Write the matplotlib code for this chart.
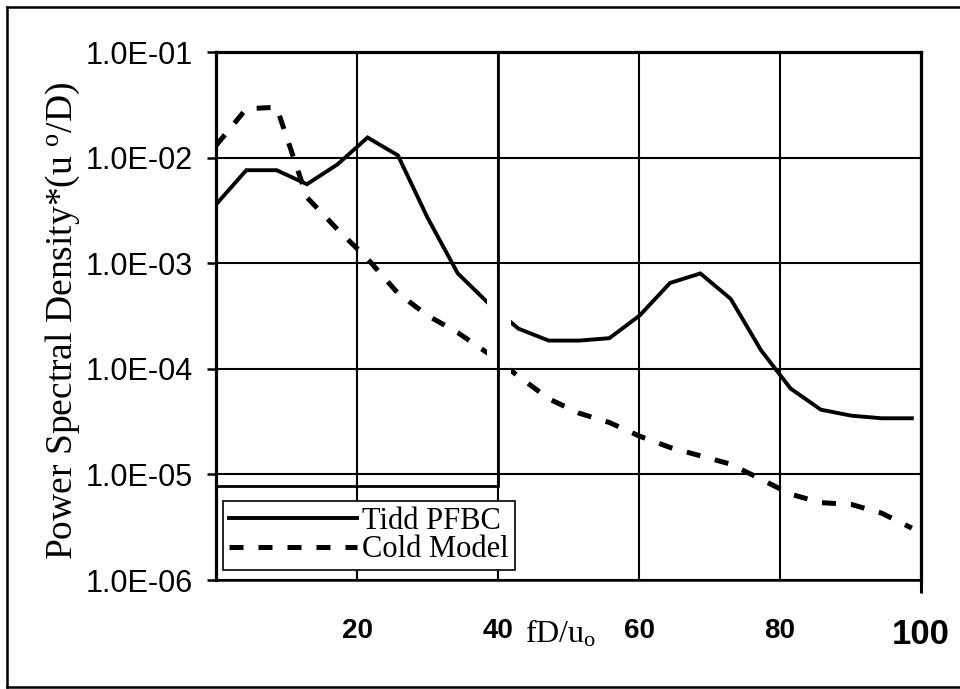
import matplotlib
matplotlib.use("Agg")
import matplotlib.pyplot as plt
from matplotlib.lines import Line2D
from matplotlib.patches import Rectangle
from matplotlib.ticker import FixedLocator, NullLocator

# ---- data ----
fd_uo = [0, 4.3, 8.6, 12.9, 17.2, 21.5, 25.8, 30.0, 34.3, 38.6, 42.9, 47.2,
         51.5, 55.8, 60.1, 64.4, 68.7, 73.0, 77.3, 81.5, 85.8, 90.1, 94.4, 98.7]
tidd_pfbc = [3.6e-3, 7.6e-3, 7.6e-3, 5.6e-3, 8.6e-3, 1.55e-2, 1.05e-2, 2.7e-3,
             8.0e-4, 4.2e-4, 2.4e-4, 1.85e-4, 1.85e-4, 1.95e-4, 3.2e-4, 6.5e-4,
             8.0e-4, 4.6e-4, 1.5e-4, 6.5e-5, 4.1e-5, 3.6e-5, 3.4e-5, 3.4e-5]
cold_model = [1.3e-2, 2.9e-2, 3.0e-2, 4.2e-3, 2.1e-3, 1.1e-3, 5.2e-4, 3.2e-4,
              2.2e-4, 1.4e-4, 8.5e-5, 5.2e-5, 3.8e-5, 3.1e-5, 2.3e-5, 1.8e-5,
              1.5e-5, 1.25e-5, 9.0e-6, 6.5e-6, 5.4e-6, 5.2e-6, 4.3e-6, 3.1e-6]
series_names = ["Tidd PFBC", "Cold Model"]
x_ticks = [20, 40, 60, 80, 100]
x_tick_labels = ["20", "40", "60", "80", "100"]
y_ticks = [1e-6, 1e-5, 1e-4, 1e-3, 1e-2, 1e-1]
y_tick_labels = ["1.0E-06", "1.0E-05", "1.0E-04", "1.0E-03", "1.0E-02", "1.0E-01"]
x_label = "fD/u$\\mathregular{_o}$"
y_label = "Power Spectral Density*(u $\\mathregular{^o}$/D)"

serif = "Liberation Serif"
sans = "Liberation Sans"

fig = plt.figure(figsize=(9.6, 6.89), dpi=100)
ax = fig.add_axes([0.225, 0.1582, 0.7344, 0.7663])

ax.plot(fd_uo, tidd_pfbc, color="black", lw=2.8, solid_joinstyle="miter",
        label=series_names[0], zorder=2)
ax.plot(fd_uo, cold_model, color="black", lw=3.6, dashes=(2.8, 3.0),
        label=series_names[1], zorder=2)

ax.set_yscale("log")
ax.set_xlim(0, 100)
ax.set_ylim(1e-6, 1e-1)
ax.yaxis.set_major_locator(FixedLocator(y_ticks))
ax.yaxis.set_minor_locator(NullLocator())
ax.set_yticklabels(y_tick_labels, fontfamily=sans, fontsize=22)
ax.xaxis.set_major_locator(FixedLocator(x_ticks))
ax.set_xticklabels(x_tick_labels, fontfamily=sans, fontsize=20, fontweight="bold")
xl = ax.get_xticklabels()
xl[-1].set_fontsize(25)

ax.tick_params(axis="y", direction="out", length=6.5, width=1.8, pad=10.5)
ax.tick_params(axis="x", length=0, width=2, pad=27)
ticks = ax.xaxis.get_major_ticks()
ticks[-1].tick1line.set_markersize(9)
ticks[-1].tick1line.set_markeredgewidth(2.2)

ax.set_axisbelow(False)
ax.grid(True, which="major", color="black", lw=1.5)
for side in ["left", "top", "right"]:
    ax.spines[side].set_linewidth(2.3)
ax.spines["bottom"].set_linewidth(1.8)

ax.set_ylabel(y_label, fontfamily=serif, fontsize=27)
ax.yaxis.set_label_coords(-0.19, 0.49)
ax.text(0.438, -0.119, x_label, transform=ax.transAxes, ha="left",
        va="baseline", fontfamily=serif, fontsize=23)

# scan artifacts: white gap band and pasted box on the left part
ax.add_patch(Rectangle((38.4, 1e-6), 3.5, 1e-1, facecolor="white",
                       edgecolor="none", zorder=2.2))
ax.add_patch(Rectangle((0, 0.178), 0.4, 0.822, transform=ax.transAxes,
                       fill=False, ec="black", lw=2.0, zorder=3, clip_on=False))

leg = ax.legend(loc="lower left", bbox_to_anchor=(0.01, 0.018),
                prop={"family": serif, "size": 22}, handlelength=4.2,
                handletextpad=0.15, borderpad=0.2, labelspacing=-0.02,
                borderaxespad=0, fancybox=False, framealpha=1)
leg.get_frame().set_edgecolor("black")
leg.get_frame().set_linewidth(1.2)
leg.set_zorder(4)

# outer frame (top, left, bottom)
fl = 1.8
fig.add_artist(Line2D([0.0073, 1.0], [0.9898, 0.9898], color="black", lw=fl,
                      transform=fig.transFigure))
fig.add_artist(Line2D([0.0073, 0.0073], [0.003, 0.9898], color="black", lw=fl,
                      transform=fig.transFigure))
fig.add_artist(Line2D([0.0073, 1.0], [0.003, 0.003], color="black", lw=fl,
                      transform=fig.transFigure))

fig.savefig("out.png", dpi=100, facecolor="white")
